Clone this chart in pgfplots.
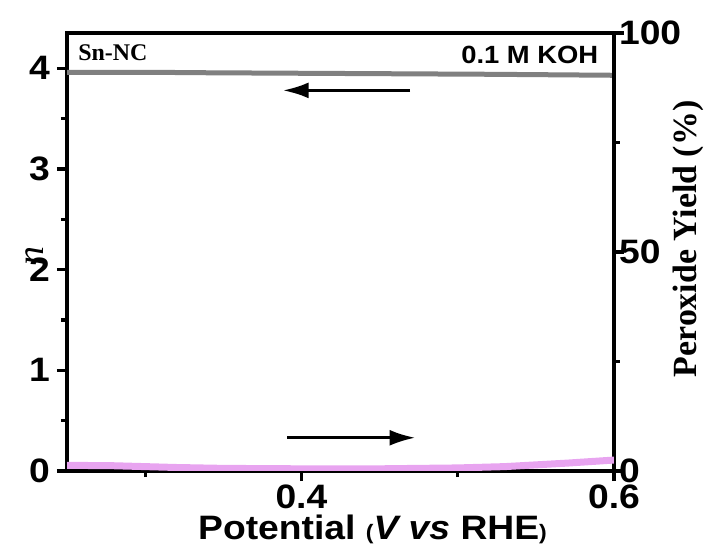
\documentclass[border=0pt]{standalone}
\usepackage{pgfplots}
\pgfplotsset{compat=1.18}
\usepackage{fontspec}
\setmainfont{Liberation Sans}[FakeStretch=1.1]
\newfontfamily\tnr{Liberation Serif}
\usetikzlibrary{arrows.meta}

\definecolor{ngray}{RGB}{128,128,128}
\definecolor{ypink}{RGB}{232,164,240}

\pgfplotsset{
  common/.style={
    scale only axis,
    width=273.5bp, height=219bp,
    xmin=0.25, xmax=0.6,
    axis line style={line width=2bp},
    tick style={line width=1.6bp, black},
    major tick length=5bp, minor tick length=3bp,
    tick align=outside,
    /pgf/number format/assume math mode=true,
    ticklabel style={font=\fontsize{17}{20}\selectfont\bfseries},
  }
}

\begin{document}
\begin{tikzpicture}
\path[use as bounding box] (-33.5bp,-41.5bp) rectangle (321.5bp,235.5bp);

\begin{axis}[common,
  ymin=0, ymax=4.35,
  xtick={0.4,0.6}, minor xtick={0.3,0.5},
  ytick={0,1,2,3,4}, minor ytick={0.5,1.5,2.5,3.5},
  xtick pos=lower, ytick pos=lower,
  xticklabel style={yshift=1.5bp, /pgf/number format/fixed, /pgf/number format/precision=1, /pgf/number format/fixed zerofill},
  xlabel={\fontsize{17}{20}\selectfont\bfseries Potential {\fontsize{10.5}{12}\selectfont(}\textit{V vs} RHE{\fontsize{10.5}{12}\selectfont)}},
  xlabel style={yshift=4bp, xshift=16bp},
  ylabel={\fontsize{19}{22}\selectfont\tnr\itshape n},
  ylabel style={at={(axis description cs:0,0.49)}, yshift=16bp, anchor=center},
]
\addplot[ngray, line width=2.5bp] coordinates {
  (0.25,3.96) (0.30,3.96) (0.34,3.955) (0.40,3.95) (0.46,3.945) (0.52,3.94) (0.56,3.935) (0.60,3.93)
};
\node[anchor=north west, font=\fontsize{12}{14}\selectfont\tnr\bfseries, inner sep=0pt]
  at (rel axis cs:0.02,0.975) {Sn-NC};
\node[anchor=north east, font=\fontsize{12.5}{15}\selectfont\bfseries, inner sep=0pt]
  at (rel axis cs:0.972,0.972) {0.1 M KOH};
\draw[line width=1.6bp, -{Latex[length=13bp,width=8bp]}] (axis cs:0.4695,3.78) -- (axis cs:0.388,3.78);
\draw[line width=1.6bp, -{Latex[length=13bp,width=8bp]}] (axis cs:0.391,0.33) -- (axis cs:0.473,0.33);
\end{axis}

\begin{axis}[common,
  ymin=0, ymax=100,
  axis x line=none,
  axis y line*=right,
  ytick={0,50,100}, minor ytick={25,75},
  yticklabel style={xshift=-6bp},
  ylabel={\fontsize{17}{20}\selectfont\tnr\bfseries Peroxide Yield (\%)},
  ylabel style={at={(axis description cs:1,0.53)}, yshift=-37bp, anchor=center},
]
\addplot[ypink, line width=3.5bp] coordinates {
  (0.25,1.3) (0.28,1.2) (0.30,1.0) (0.32,0.8) (0.35,0.6) (0.40,0.5) (0.45,0.5)
  (0.50,0.7) (0.53,1.0) (0.55,1.4) (0.57,1.8) (0.60,2.5)
};
\end{axis}
\end{tikzpicture}
\end{document}
